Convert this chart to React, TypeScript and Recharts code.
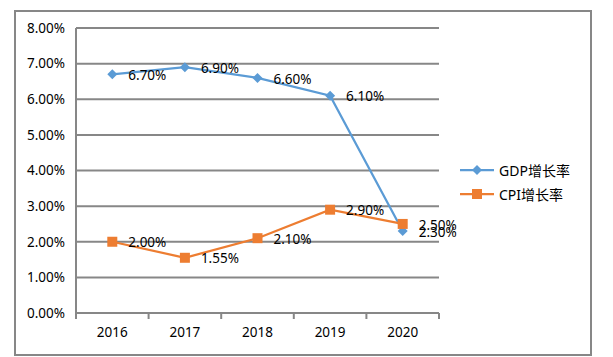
import React from "react"
import { LineChart, Line, XAxis, YAxis, CartesianGrid, LabelList } from "recharts"

const years = ["2016", "2017", "2018", "2019", "2020"]
const gdpGrowth = [6.7, 6.9, 6.6, 6.1, 2.3]
const cpiGrowth = [2.0, 1.55, 2.1, 2.9, 2.5]
const yTicks = [0, 1, 2, 3, 4, 5, 6, 7, 8]

const GDP_NAME = "GDP增长率"
const CPI_NAME = "CPI增长率"

const data = years.map((year, i) => ({ year, gdp: gdpGrowth[i], cpi: cpiGrowth[i] }))

const GRID = "#878787"
const BLUE = "#5B9BD5"
const ORANGE = "#ED7D31"
const FONT = "'Noto Sans', 'Noto Sans CJK SC', sans-serif"
const FS = 13.5

// plot box (left / right / bottom edges), used for the boundary tick marks
const PLOT_LEFT = 76
const PLOT_RIGHT = 439
const PLOT_BOTTOM = 313

const fmt = (v: number) => `${v.toFixed(2)}%`

const XTick = (props: any) => {
  const { x, y, payload, index } = props
  const half = (PLOT_RIGHT - PLOT_LEFT) / years.length / 2
  return (
    <g>
      <line x1={x - half} x2={x - half} y1={PLOT_BOTTOM} y2={PLOT_BOTTOM + 6} stroke={GRID} strokeWidth={2} />
      {index === years.length - 1 && (
        <line x1={x + half} x2={x + half} y1={PLOT_BOTTOM} y2={PLOT_BOTTOM + 6} stroke={GRID} strokeWidth={2} />
      )}
      <text x={x} y={y} dy="0.71em" textAnchor="middle" fill="#000" fontSize={FS} fontFamily={FONT}>
        {payload.value}
      </text>
    </g>
  )
}

const Diamond = (props: any) => {
  const { cx, cy } = props
  if (cx == null || cy == null) return null
  return <polygon points={`${cx - 5},${cy} ${cx},${cy - 5} ${cx + 5},${cy} ${cx},${cy + 5}`} fill={BLUE} />
}

const Square = (props: any) => {
  const { cx, cy } = props
  if (cx == null || cy == null) return null
  return <rect x={cx - 5} y={cy - 5} width={10} height={10} fill={ORANGE} />
}

const PointLabel = (props: any) => {
  const { x, y, value } = props
  return (
    <text x={x + 16} y={y + 2} dominantBaseline="middle" fill="#000" fontSize={FS} fontFamily={FONT}>
      {fmt(value)}
    </text>
  )
}

const LegendBox = () => (
  <div style={{ position: "absolute", left: 460, top: 158, fontFamily: FONT, fontSize: 14, color: "#000" }}>
    {[
      { name: GDP_NAME, color: BLUE, diamond: true },
      { name: CPI_NAME, color: ORANGE, diamond: false },
    ].map((item) => (
      <div key={item.name} style={{ display: "flex", alignItems: "center", height: 24 }}>
        <svg width={34} height={12} style={{ marginRight: 5 }}>
          <line x1={0} x2={34} y1={6} y2={6} stroke={item.color} strokeWidth={2.25} />
          {item.diamond ? (
            <polygon points="12,6 17,1 22,6 17,11" fill={item.color} />
          ) : (
            <rect x={12} y={1} width={10} height={10} fill={item.color} />
          )}
        </svg>
        <span>{item.name}</span>
      </div>
    ))}
  </div>
)

export default function App() {
  return (
    <div style={{ position: "absolute", left: 0, top: 0, width: 613, height: 357, background: "#fff" }}>
      <div
        style={{
          position: "absolute",
          left: 14,
          top: 10,
          width: 574,
          height: 342,
          border: `2px solid ${GRID}`,
        }}
      />
      <LineChart
        width={613}
        height={357}
        data={data}
        margin={{ top: 28, right: 174, bottom: 14, left: 16 }}
        style={{ position: "absolute", left: 0, top: 0 }}
      >
        <CartesianGrid horizontal vertical={false} stroke={GRID} strokeWidth={2} />
        <XAxis
          dataKey="year"
          scale="band"
          axisLine={{ stroke: GRID, strokeWidth: 2 }}
          tickLine={false}
          tickMargin={8}
          height={30}
          tick={<XTick />}
        />
        <YAxis
          domain={[0, 8]}
          ticks={yTicks}
          width={60}
          tickFormatter={fmt}
          axisLine={{ stroke: GRID, strokeWidth: 2 }}
          tickLine={false}
          tickMargin={5}
          tick={{ fill: "#000", fontSize: FS, fontFamily: FONT }}
        />
        <Line
          name={GDP_NAME}
          dataKey="gdp"
          stroke={BLUE}
          strokeWidth={2.25}
          dot={<Diamond />}
          activeDot={false}
          isAnimationActive={false}
        >
          <LabelList dataKey="gdp" content={<PointLabel />} />
        </Line>
        <Line
          name={CPI_NAME}
          dataKey="cpi"
          stroke={ORANGE}
          strokeWidth={2.25}
          dot={<Square />}
          activeDot={false}
          isAnimationActive={false}
        >
          <LabelList dataKey="cpi" content={<PointLabel />} />
        </Line>
      </LineChart>
      <LegendBox />
    </div>
  )
}
